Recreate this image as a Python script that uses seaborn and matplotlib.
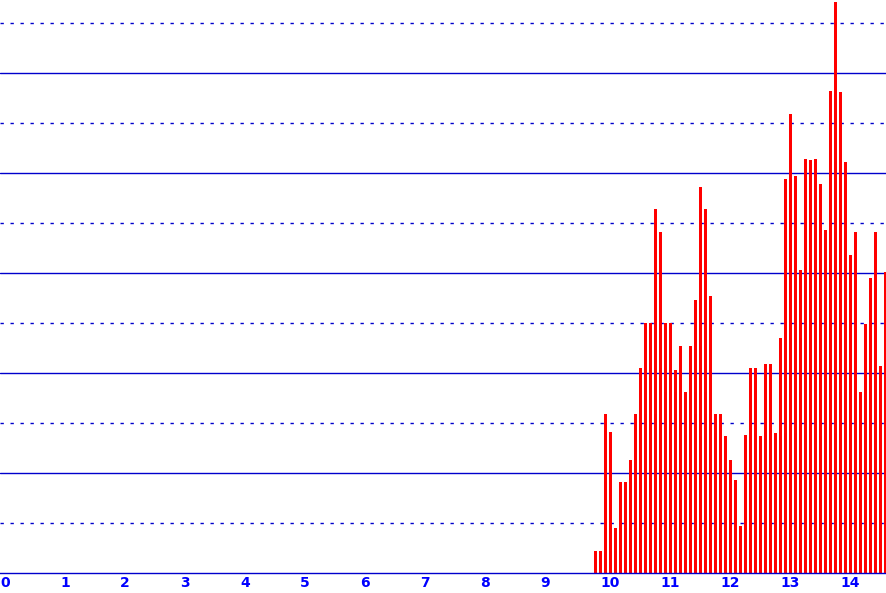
import numpy as np
import pandas as pd
import matplotlib
matplotlib.use("Agg")
import matplotlib.pyplot as plt
import seaborn as sns

# Monthly index (months since year 0) and bar heights
months = list(range(119, 178))
heights = [2.2, 2.2, 15.9, 14.1, 4.5, 9.1, 9.1, 11.3, 15.9, 20.5,
           25.0, 25.0, 36.4, 34.1, 25.0, 25.0, 20.3, 22.7, 18.1, 22.7,
           27.3, 38.6, 36.4, 27.7, 15.9, 15.9, 13.7, 11.3, 9.3, 4.7,
           13.8, 20.5, 20.5, 13.7, 20.9, 20.9, 14.0, 23.5, 39.4, 45.9,
           39.7, 30.3, 41.4, 41.3, 41.4, 38.9, 34.3, 48.2, 57.1, 48.1,
           41.1, 31.8, 34.1, 18.1, 24.9, 29.5, 34.1, 20.7, 30.1]
tick_values = list(range(0, 15))
tick_labels = [str(v) for v in tick_values]

df = pd.DataFrame({"x": np.array(months) / 12.0, "h": heights})

sns.set_style("white")
plt.rcParams['lines.scale_dashes'] = False

W, H = 887, 593
fig = plt.figure(figsize=(W / 100, H / 100), dpi=100)
ax = fig.add_axes([0, 20 / H, 1, 573 / H])

grid_color = "#0000CC"
for y in [10, 20, 30, 40, 50]:
    ax.axhline(y, color=grid_color, lw=1.0, zorder=0)
for y in [5, 15, 25, 35, 45, 55]:
    ax.axhline(y, color=grid_color, lw=1.0, zorder=0, linestyle=(0, (2.4, 4.8)))

sns.barplot(data=df, x="x", y="h", native_scale=True, width=0.45,
            color="#FF0000", saturation=1, linewidth=0, ax=ax)
for p in ax.patches:
    p.set_zorder(3)
    p.set_x(p.get_x() + 0.6 / 60)

ax.set_xlim(0, W / 60)
ax.set_ylim(0, 57.3)
ax.set_xticks(tick_values)
ax.set_xticklabels(tick_labels, ha="left", color="#0000FF",
                   fontsize=10, fontweight="bold")
ax.tick_params(axis="x", length=0, pad=2)
ax.set_yticks([])
ax.set_xlabel("")
ax.set_ylabel("")
for s in ["top", "left", "right"]:
    ax.spines[s].set_visible(False)
ax.spines["bottom"].set_color(grid_color)
ax.spines["bottom"].set_linewidth(1.0)
ax.spines["bottom"].set_zorder(4)

fig.savefig("out.png", dpi=100)
